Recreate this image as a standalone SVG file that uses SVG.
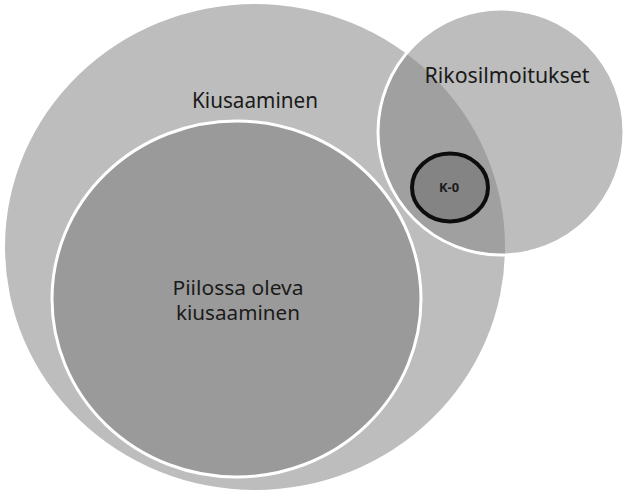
<svg xmlns="http://www.w3.org/2000/svg" width="624" height="493" viewBox="0 0 624 493">
  <style>
    .lbl { font-family: "Noto Sans", "Open Sans", "Liberation Sans", sans-serif; fill: #1a1a1a; text-anchor: middle; }
    .big { font-size: 21px; }
    .mid { font-size: 19px; }
    .small { font-size: 12px; font-weight: bold; }
  </style>
  <defs>
    <clipPath id="bigClip">
      <ellipse cx="255" cy="247" rx="250" ry="243"/>
    </clipPath>
  </defs>
  <rect width="624" height="493" fill="#ffffff"/>

  <g id="kiusaaminen">
    <ellipse cx="255" cy="247" rx="250" ry="243" fill="#bdbdbd"/>
    <text class="lbl big" x="255" y="108" textLength="126" lengthAdjust="spacingAndGlyphs">Kiusaaminen</text>
  </g>

  <g id="rikosilmoitukset">
    <ellipse cx="501" cy="132" rx="123" ry="123" fill="#bdbdbd"/>
    <ellipse cx="501" cy="132" rx="123" ry="123" fill="#a0a0a0" clip-path="url(#bigClip)"/>
    <ellipse cx="501" cy="132" rx="123" ry="123" fill="none" stroke="#ffffff" stroke-width="3"/>
    <text class="lbl big" x="507" y="83" textLength="165" lengthAdjust="spacingAndGlyphs">Rikosilmoitukset</text>
  </g>

  <g id="piilossa">
    <ellipse cx="236.5" cy="299" rx="184.5" ry="178" fill="#9a9a9a" stroke="#ffffff" stroke-width="3"/>
    <text class="lbl mid" x="238" y="295" textLength="131" lengthAdjust="spacingAndGlyphs">Piilossa oleva</text>
    <text class="lbl mid" x="238" y="320" textLength="124" lengthAdjust="spacingAndGlyphs">kiusaaminen</text>
  </g>

  <g id="k0">
    <ellipse cx="450" cy="187.5" rx="38" ry="34" fill="#848484" stroke="#0d0d0d" stroke-width="4"/>
    <text class="lbl small" x="449" y="192" textLength="20" lengthAdjust="spacingAndGlyphs">K-0</text>
  </g>
</svg>
